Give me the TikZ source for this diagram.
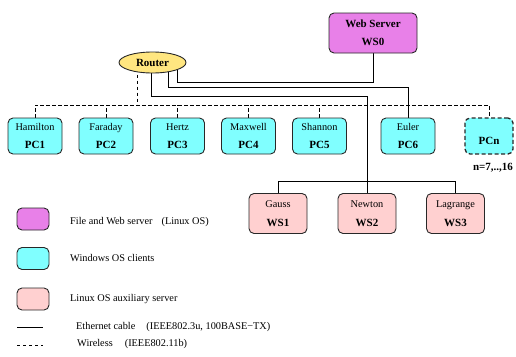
\documentclass[tikz,border=0pt]{standalone}
\usepackage{fontspec}
\setmainfont{Liberation Serif}
\usetikzlibrary{shapes.geometric,calc}

\definecolor{srvfill}{RGB}{232,128,232}
\definecolor{winfill}{RGB}{128,255,255}
\definecolor{lnxfill}{RGB}{255,208,208}
\definecolor{rtrfill}{RGB}{255,230,128}
\definecolor{edgecol}{RGB}{40,40,40}

\pgfdeclarelayer{background}
\pgfsetlayers{background,main}

\tikzset{
  hostbox/.style={draw=edgecol, line width=0.9pt, rounded corners=5pt,
    inner sep=0pt, font=\fontsize{10.3}{12}\selectfont},
  pcbox/.style={hostbox, align=center, fill=winfill, minimum width=54pt, minimum height=36pt},
  pcnbox/.style={hostbox, fill=winfill, minimum width=48pt, minimum height=36pt,
    line width=1.3pt, dash pattern=on 4pt off 2.5pt,
    font=\bfseries\fontsize{11}{12}\selectfont, text height=17pt, text depth=0pt},
  wsbox/.style={hostbox, align=center, fill=lnxfill, minimum width=58pt, minimum height=40pt},
  webbox/.style={hostbox, align=center, fill=srvfill, minimum width=88pt, minimum height=40pt},
  routernode/.style={ellipse, draw=edgecol, line width=0.9pt, fill=rtrfill,
    minimum width=67pt, minimum height=21pt, inner sep=0pt,
    font=\bfseries\fontsize{11}{12}\selectfont},
  keybox/.style={hostbox, minimum width=32pt, minimum height=22pt},
  keytext/.style={anchor=base west, inner sep=0pt, font=\fontsize{10.3}{12}\selectfont},
  notetext/.style={inner sep=0pt, font=\bfseries\fontsize{11}{12}\selectfont},
  cable/.style={draw=black, line width=0.8pt},
  wifi/.style={draw=black, line width=0.8pt, dash pattern=on 3.5pt off 2.5pt},
}
\newcommand{\hostlabel}[2]{#1\\[6.5pt]{\bfseries\fontsize{11}{12}\selectfont #2}}

\begin{document}
\begin{tikzpicture}[x=1pt,y=-1pt]
\useasboundingbox (0,0) rectangle (516,356);

% servers, router and clients
\node[webbox] (ws0) at (373,33)
  {{\bfseries\fontsize{11}{12}\selectfont Web Server}\\[5.5pt]{\bfseries\fontsize{11}{12}\selectfont WS0}};
\node[routernode] (router) at (152.5,62.5) {Router};

\node[pcbox] (pc1) at (35,136)    {\hostlabel{Hamilton}{PC1}};
\node[pcbox] (pc2) at (106,136)   {\hostlabel{Faraday}{PC2}};
\node[pcbox] (pc3) at (177.5,136) {\hostlabel{Hertz}{PC3}};
\node[pcbox] (pc4) at (248.5,136) {\hostlabel{Maxwell}{PC4}};
\node[pcbox] (pc5) at (319.5,136) {\hostlabel{Shannon}{PC5}};
\node[pcbox] (pc6) at (408,136)   {\hostlabel{Euler}{PC6}};
\node[pcnbox] (pcn) at (489,136)  {PCn};
\node[notetext] (pcnote) at (493,168) {n=7,..,16};

\node[wsbox] (ws1) at (278,213.5) {\hostlabel{Gauss}{WS1}};
\node[wsbox] (ws2) at (367,213.5) {\hostlabel{Newton}{WS2}};
\node[wsbox] (ws3) at (455.5,213.5) {\hostlabel{Lagrange}{WS3}};

% cable and wireless levels
\coordinate (lvlA) at (0,82);
\coordinate (lvlB) at (0,87);
\coordinate (lvlC) at (0,96);
\coordinate (lvlW) at (0,105);
\coordinate (lvlD) at (0,181);

\begin{pgfonlayer}{background}
  \coordinate (rA) at ($(router.center)+(24.5,0)$);
  \coordinate (rB) at ($(router.center)+(15.5,0)$);
  \coordinate (rC) at ($(router.center)+(-1.5,0)$);
  \coordinate (rW) at ($(router.center)+(-15.5,0)$);

  % ethernet
  \draw[cable] (rA) |- (lvlA -| ws0.south) -- (ws0.south);
  \draw[cable] (rB) |- (lvlB -| pc6.north) -- (pc6.north);
  \draw[cable] (rC) |- (lvlC -| ws2.north) -- (ws2.north);
  \draw[cable] (ws1.north) -- (ws1.north |- lvlD) -- (ws3.north |- lvlD) -- (ws3.north);

  % wireless
  \draw[wifi] (rW) -- (rW |- lvlW);
  \draw[wifi] (pc1.north) -- (pc1.north |- lvlW) -- (pcn.north |- lvlW) -- (pcn.north);
  \foreach \p in {pc2,pc3,pc4,pc5}
    \draw[wifi] (\p.north) -- (\p.north |- lvlW);
\end{pgfonlayer}

% legend
\node[keybox, fill=srvfill] (keyweb) at (33,219) {};
\node[keybox, fill=winfill] (keywin) at (33,258.5) {};
\node[keybox, fill=lnxfill] (keylnx) at (33,299) {};
\node[keytext] (keywebtxt) at (70,224) {File and Web server\hspace{9pt}(Linux OS)};
\node[keytext] (keywintxt) at (70,261) {Windows OS clients};
\node[keytext] (keylnxtxt) at (70,301) {Linux OS auxiliary server};

\coordinate (ethA) at (17,327);
\coordinate (ethB) at (43,327);
\coordinate (wifA) at (17,345);
\coordinate (wifB) at (43,345);
\draw[cable] (ethA) -- (ethB);
\draw[wifi, dash pattern=on 3pt off 3pt] (wifA) -- (wifB);
\node[keytext] (keyethtxt) at (76,329) {Ethernet cable\hspace{11pt}(IEEE802.3u, 100BASE\textminus TX)};
\node[keytext] (keywiftxt) at (77,346) {Wireless\hspace{12pt}(IEEE802.11b)};
\end{tikzpicture}
\end{document}
